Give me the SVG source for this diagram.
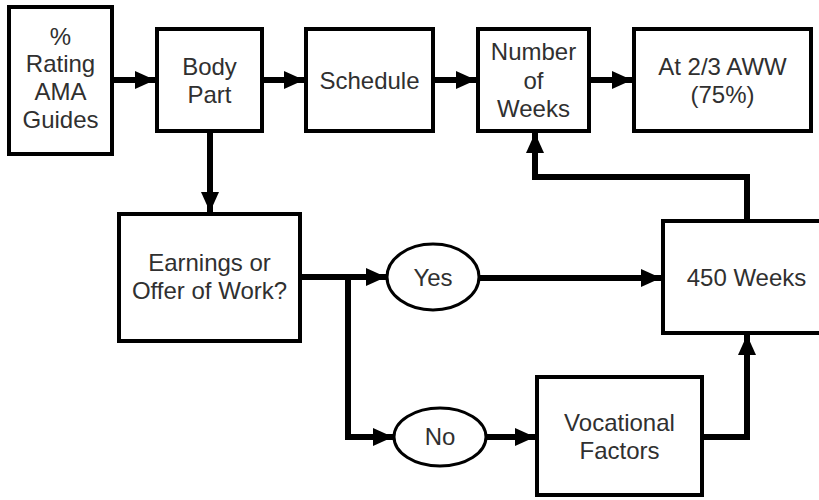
<svg xmlns="http://www.w3.org/2000/svg" width="819" height="500" viewBox="0 0 819 500">
  <style>
    .box { fill: #ffffff; stroke: #000000; stroke-width: 4; }
    .oval { fill: #ffffff; stroke: #000000; stroke-width: 3; }
    .label { font-family: "Liberation Sans", Arial, sans-serif; font-size: 24px; fill: #303030; text-anchor: middle; }
    .wire { fill: none; stroke: #000000; stroke-width: 6; stroke-linejoin: miter; marker-end: url(#head); }
  </style>
  <defs>
    <marker id="head" markerUnits="userSpaceOnUse" markerWidth="20" markerHeight="20" refX="20" refY="10" orient="auto">
      <path d="M0,1 L20,10 L0,19 Z" fill="#000000"/>
    </marker>
  </defs>
  <rect width="819" height="500" fill="#ffffff"/>

  <!-- connectors -->
  <g id="connectors">
    <path class="wire" d="M112,80 H155"/>
    <path class="wire" d="M262,80 H304"/>
    <path class="wire" d="M433,80 H476"/>
    <path class="wire" d="M589,80 H632"/>
    <path class="wire" d="M210,131 V212"/>
    <path class="wire" d="M300,277 H386"/>
    <path class="wire" d="M348,277 V437 H393"/>
    <path class="wire" d="M479,278 H661"/>
    <path class="wire" d="M486,437 H535"/>
    <path class="wire" d="M702,437 H747 V335"/>
    <path class="wire" d="M747,219 V177 H535 V133"/>
  </g>

  <g id="rating">
    <rect class="box" x="9" y="7" width="103" height="147"/>
    <text class="label" x="60.5" y="45">%</text>
    <text class="label" x="60.5" y="72">Rating</text>
    <text class="label" x="60.5" y="100">AMA</text>
    <text class="label" x="60.5" y="128">Guides</text>
  </g>

  <g id="body-part">
    <rect class="box" x="157" y="29" width="105" height="102"/>
    <text class="label" x="209.5" y="75">Body</text>
    <text class="label" x="209.5" y="103">Part</text>
  </g>

  <g id="schedule">
    <rect class="box" x="306" y="29" width="127" height="102"/>
    <text class="label" x="369.5" y="89">Schedule</text>
  </g>

  <g id="number-of-weeks">
    <rect class="box" x="478" y="29" width="111" height="102"/>
    <text class="label" x="533.5" y="60">Number</text>
    <text class="label" x="533.5" y="88.5">of</text>
    <text class="label" x="533.5" y="117">Weeks</text>
  </g>

  <g id="rate">
    <rect class="box" x="634" y="29" width="177" height="102"/>
    <text class="label" x="722.5" y="75">At 2/3 AWW</text>
    <text class="label" x="722.5" y="103">(75%)</text>
  </g>

  <g id="earnings">
    <rect class="box" x="119" y="214" width="181" height="127"/>
    <text class="label" x="209.5" y="271">Earnings or</text>
    <text class="label" x="209.5" y="299">Offer of Work?</text>
  </g>

  <g id="yes">
    <ellipse class="oval" cx="433" cy="277" rx="46" ry="33"/>
    <text class="label" x="433" y="286">Yes</text>
  </g>

  <g id="no">
    <ellipse class="oval" cx="440" cy="437" rx="46" ry="29"/>
    <text class="label" x="440" y="445">No</text>
  </g>

  <g id="weeks-450">
    <rect class="box" x="663" y="221" width="170" height="112"/>
    <text class="label" x="746.5" y="286">450 Weeks</text>
  </g>

  <g id="vocational">
    <rect class="box" x="537" y="377" width="165" height="118"/>
    <text class="label" x="619.5" y="431">Vocational</text>
    <text class="label" x="619.5" y="459">Factors</text>
  </g>
</svg>
